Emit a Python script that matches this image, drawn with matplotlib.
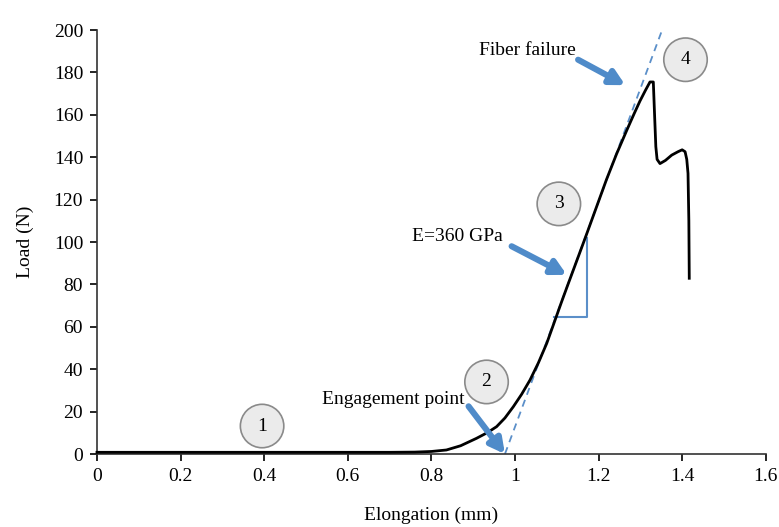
import numpy as np
import matplotlib
matplotlib.use("Agg")
import matplotlib.pyplot as plt

plt.rcParams["font.family"] = ["Liberation Serif", "DejaVu Serif"]

# load-elongation curve of the fibre test
elong = [0.0, 0.2, 0.4, 0.6, 0.7, 0.76, 0.8, 0.836, 0.87, 0.908, 0.935, 0.956,
         0.976, 0.996, 1.016, 1.036, 1.056, 1.076, 1.092, 1.111, 1.124, 1.140,
         1.156, 1.171, 1.195, 1.219, 1.243, 1.267, 1.285, 1.299, 1.312, 1.323,
         1.331, 1.334, 1.337, 1.340, 1.347, 1.36, 1.375, 1.390, 1.400, 1.407,
         1.411, 1.414, 1.416, 1.417]
load = [0.8, 0.8, 0.8, 0.8, 0.8, 0.9, 1.2, 1.9, 3.9, 7.4, 10.2, 12.9,
        17.0, 22.3, 28.2, 34.9, 43.0, 52.2, 61.0, 71.5, 78.5, 87.0,
        95.5, 103.5, 116.5, 129.5, 141.5, 152.5, 160.5, 166.5, 171.5, 175.5,
        175.5, 160.0, 145.0, 139.0, 137.0, 138.5, 141.0, 142.6, 143.5, 142.6,
        139.0, 132.4, 110.0, 82.9]

# stiffness line (E = 360 GPa) and its slope triangle
fit_x = [0.976, 1.368]
fit_y = [0.0, 208.5]
tri_x = [1.094, 1.172, 1.172]
tri_y = [64.6, 64.6, 102.0]

# numbered stages
stage_labels = ["1", "2", "3", "4"]
stage_x = [0.395, 0.932, 1.105, 1.408]
stage_y = [13.2, 34.0, 118.0, 186.0]

# callouts: text, text position (right edge), arrow tail, arrow tip
notes = [
    ("Engagement point", (0.880, 25.5), (0.889, 22.5), (0.976, 0.0)),
    ("E=360 GPa", (0.971, 102.4), (0.992, 98.0), (1.124, 84.5)),
    ("Fiber failure", (1.146, 190.5), (1.151, 186.0), (1.264, 174.0)),
]

blue = "#4f8bc9"
fs = 14

fig = plt.figure(figsize=(7.79, 5.27), dpi=100)
ax = fig.add_axes([0.1245, 0.1385, 0.8585, 0.8045])

ax.plot(fit_x, fit_y, color="#5b8fc9", lw=1.3, ls=(0, (4, 3)), zorder=2)
ax.plot(tri_x, tri_y, color="#5b8fc9", lw=1.5, zorder=2)
ax.plot(elong, load, color="black", lw=2.0, zorder=3, clip_on=False)

for s, x, y in zip(stage_labels, stage_x, stage_y):
    ax.text(x, y, s, fontsize=fs, ha="center", va="center", zorder=5,
            bbox=dict(boxstyle="circle,pad=0.68", fc="#ebebeb", ec="#8a8a8a", lw=1.2))

for txt, tpos, tail, tip in notes:
    ax.text(tpos[0], tpos[1], txt, fontsize=fs, ha="right", va="center", zorder=5)
    ax.annotate("", xy=tip, xytext=tail, zorder=6,
                arrowprops=dict(arrowstyle="-|>,head_length=0.85,head_width=0.45",
                                color=blue, lw=4.4, shrinkA=0, shrinkB=0))

ax.set_xlim(0, 1.6)
ax.set_ylim(0, 200)
ax.set_xticks(np.arange(0, 1.61, 0.2))
ax.set_xticklabels(["0", "0.2", "0.4", "0.6", "0.8", "1", "1.2", "1.4", "1.6"])
ax.set_yticks(np.arange(0, 201, 20))
ax.tick_params(direction="out", length=5, width=1.2, labelsize=fs, pad=5)
for side in ["top", "right"]:
    ax.spines[side].set_visible(False)
for side in ["left", "bottom"]:
    ax.spines[side].set_linewidth(1.2)
    ax.spines[side].set_color("#333333")
ax.set_xlabel("Elongation (mm)", fontsize=fs, labelpad=16)
ax.set_ylabel("Load (N)", fontsize=fs, labelpad=14)

fig.savefig("out.png", dpi=100)
